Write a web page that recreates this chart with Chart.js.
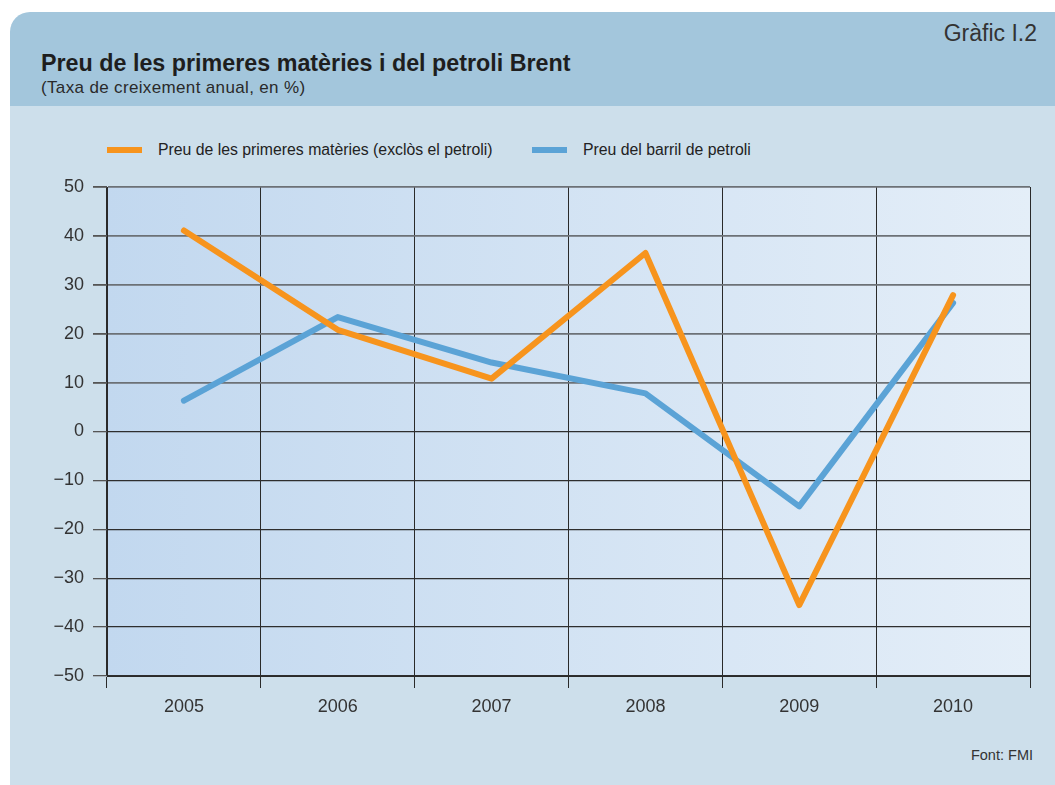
<!DOCTYPE html>
<html lang="ca">
<head>
<meta charset="utf-8">
<script src="https://cdn.jsdelivr.net/npm/chart.js@4/dist/chart.umd.min.js"></script>
<style>
  html, body { margin: 0; padding: 0; background: #fff; }
  body { width: 1055px; height: 785px; position: relative; overflow: hidden;
         font-family: "Liberation Sans", Arial, sans-serif; color: #222; line-height: 1; }
  .card-head { position: absolute; left: 10px; top: 12px; width: 1045px; height: 94px;
               background: #a3c6dc; border-top-left-radius: 20px; }
  .card-body { position: absolute; left: 10px; top: 106px; width: 1045px; height: 679px;
               background: #cddfeb; }
  .num { position: absolute; right: 18px; top: 22px; font-size: 23px; color: #333; white-space: nowrap; }
  .title { position: absolute; left: 41px; top: 52px; font-size: 23.3px; font-weight: bold; color: #1e1e1e; white-space: nowrap; }
  .sub { position: absolute; left: 41px; top: 79px; font-size: 17px; letter-spacing: 0.35px; color: #2a2a2a; white-space: nowrap; }
  .legend { position: absolute; top: 142px; font-size: 15.8px; color: #222; }
  .legend span.sw { position: absolute; top: 5px; width: 35px; height: 6px; }
  .legend span.tx { position: absolute; top: 0; white-space: nowrap; }
  .src { position: absolute; right: 22px; top: 748px; font-size: 14.5px; color: #333; white-space: nowrap; }
  #wrap { position: absolute; left: 0; top: 0; width: 1055px; height: 785px; }
</style>
</head>
<body>
<div class="card-head"></div>
<div class="card-body"></div>
<div class="num">Gràfic I.2</div>
<div class="title">Preu de les primeres matèries i del petroli Brent</div>
<div class="sub">(Taxa de creixement anual, en %)</div>
<div class="legend" style="left:107px">
  <span class="sw" style="left:0;background:#f7941d"></span>
  <span class="tx" style="left:51px">Preu de les primeres matèries (exclòs el petroli)</span>
</div>
<div class="legend" style="left:532px">
  <span class="sw" style="left:0;background:#5ba3d6"></span>
  <span class="tx" style="left:51px">Preu del barril de petroli</span>
</div>
<div class="src">Font: FMI</div>
<div id="wrap"><canvas id="chart"></canvas></div>
<script>
const years = ["2005", "2006", "2007", "2008", "2009", "2010"];
const commodities = [41.1, 20.8, 10.8, 36.5, -35.5, 27.9];
const brentOil = [6.3, 23.4, 14.1, 7.8, -15.3, 26.3];
const yTicks = [50, 40, 30, 20, 10, 0, -10, -20, -30, -40, -50];

const plotBg = {
  id: "plotBg",
  beforeDraw(chart) {
    const { ctx, chartArea: a } = chart;
    const g = ctx.createLinearGradient(a.left, 0, a.right, 0);
    g.addColorStop(0, "#c2d8ef");
    g.addColorStop(1, "#e4eef8");
    ctx.save();
    ctx.fillStyle = g;
    ctx.fillRect(a.left, a.top, a.right - a.left, a.bottom - a.top);
    ctx.restore();
  },
};

const fmt = (v) => (v < 0 ? "\u2212" + Math.abs(v) : String(v));

new Chart(document.getElementById("chart"), {
  type: "line",
  data: {
    labels: years,
    datasets: [
      { label: "Preu de les primeres matèries (exclòs el petroli)", data: commodities,
        borderColor: "#f7941d", borderWidth: 6 },
      { label: "Preu del barril de petroli", data: brentOil,
        borderColor: "#5ba3d6", borderWidth: 6 },
    ],
  },
  options: {
    responsive: true,
    maintainAspectRatio: false,
    animation: false,
    events: [],
    layout: { padding: { left: 0, top: 187, right: 25, bottom: 69 } },
    elements: {
      point: { radius: 0 },
      line: { tension: 0, borderCapStyle: "round", borderJoinStyle: "round" },
    },
    plugins: { legend: { display: false }, tooltip: { enabled: false } },
    scales: {
      x: {
        offset: true,
        afterFit: (s) => { s.height = 40; },
        grid: { offset: true, color: "#2a2a2a", lineWidth: 1, tickLength: 12, tickColor: "#2a2a2a" },
        border: { display: true, color: "#2a2a2a", width: 1 },
        ticks: { color: "#333", padding: 8, font: { family: "Liberation Sans", size: 18 } },
      },
      y: {
        min: -50,
        max: 50,
        afterFit: (s) => { s.width = 107; },
        afterBuildTicks: (s) => { s.ticks = yTicks.map((v) => ({ value: v })); },
        grid: {
          color: (c) => (c.tick && c.tick.value > 0 ? "#6c7176" : "#2e2e2e"),
          lineWidth: (c) => (c.tick && c.tick.value > 0 ? 1.8 : 1.3),
          tickLength: 14,
          tickColor: "#555",
        },
        border: { display: true, color: "#2a2a2a", width: 1 },
        ticks: { color: "#333", padding: 9, callback: (v) => fmt(v),
                 font: { family: "Liberation Sans", size: 18 } },
      },
    },
  },
  plugins: [plotBg],
});
</script>
</body>
</html>
